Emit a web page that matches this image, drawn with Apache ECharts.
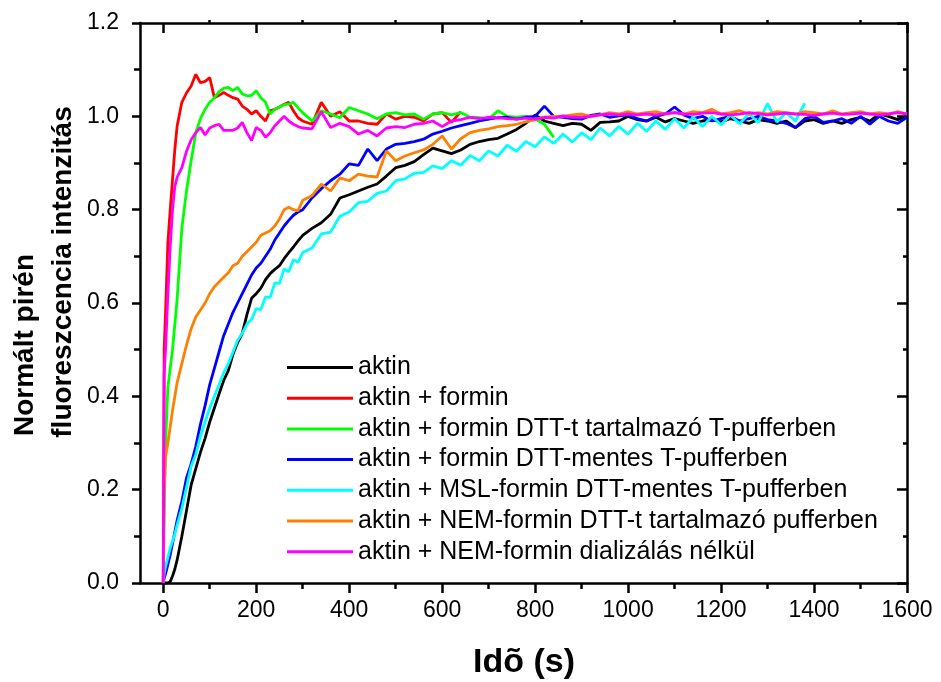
<!DOCTYPE html>
<html>
<head>
<meta charset="utf-8">
<script src="https://cdn.jsdelivr.net/npm/echarts@6/dist/echarts.min.js"></script>
<style>
html,body{margin:0;padding:0;background:#fff;}
#chart{width:941px;height:682px;}
</style>
</head>
<body>
<div id="chart"></div>
<script>
// time grid (s)
const T = [0,2,5,10,15,20,25,30,40,50,60,70,80,90,100,110,120,130,140,150,160,170,180,190,200,210,220,230,240,250,260,270,280,290,300,
  320,340,360,380,400,420,440,460,480,500,
  520,540,560,580,600,620,640,660,680,700,
  720,740,760,780,800,820,840,860,880,900,
  920,940,960,980,1000,1020,1040,1060,1080,1100,
  1120,1140,1160,1180,1200,1220,1240,1260,1280,1300,
  1320,1340,1360,1380,1400,1420,1440,1460,1480,1500,
  1520,1540,1560,1580,1600];

const seriesNames = [
  'aktin',
  'aktin + formin',
  'aktin + formin DTT-t tartalmazó T-pufferben',
  'aktin + formin DTT-mentes T-pufferben',
  'aktin + MSL-formin DTT-mentes T-pufferben',
  'aktin + NEM-formin DTT-t tartalmazó pufferben',
  'aktin + NEM-formin dializálás nélkül'
];

const aktin = [0,0,0,0,0.003,0.015,0.03,0.05,0.10,0.155,0.21,0.245,0.28,0.31,0.345,0.375,0.405,0.434,0.455,0.49,0.515,0.535,0.575,0.61,0.62,0.632,0.65,0.663,0.672,0.68,0.695,0.708,0.72,0.733,0.745,
  0.76,0.772,0.79,0.825,0.832,0.84,0.848,0.855,0.872,0.89,
  0.895,0.903,0.918,0.932,0.926,0.92,0.928,0.94,0.946,0.95,
  0.953,0.962,0.972,0.985,1.003,0.99,0.985,0.98,0.985,0.983,
  0.97,0.987,0.988,0.99,1.0,0.993,0.99,0.998,0.988,0.995,
  0.99,0.985,0.99,0.993,0.988,0.995,0.99,0.985,0.993,0.99,
  0.985,0.99,0.976,0.99,0.993,0.985,0.99,0.985,0.993,0.998,
  0.99,1.005,1.0,0.993,1.0];

const formin = [0,0.5,0.58,0.73,0.80,0.865,0.93,0.98,1.03,1.05,1.065,1.09,1.072,1.075,1.083,1.04,1.045,1.051,1.045,1.04,1.037,1.022,1.015,1.005,1.012,1.0,0.99,1.012,1.015,1.02,1.026,1.03,1.012,0.997,0.99,
  0.983,1.03,1.0,1.01,0.99,0.99,0.985,0.983,1.005,0.994,
  1.0,0.998,0.99,1.005,1.008,0.987,1.01];

const forminDTT = [0,0.15,0.3,0.42,0.46,0.5,0.555,0.61,0.76,0.84,0.905,0.965,0.995,1.015,1.03,1.04,1.053,1.06,1.062,1.055,1.062,1.048,1.044,1.045,1.055,1.04,1.03,1.005,1.015,1.02,1.025,1.026,1.03,1.018,1.008,
  0.99,1.012,1.005,0.997,1.019,1.012,1.005,0.995,1.005,1.008,
  1.003,1.005,0.994,1.005,1.008,1.003,1.008,0.998,0.997,0.994,
  1.012,1.0,0.998,1.0,0.994,0.983,0.955];

const forminMentes = [0,0.01,0.02,0.04,0.06,0.085,0.11,0.135,0.175,0.225,0.255,0.293,0.34,0.38,0.425,0.46,0.495,0.53,0.555,0.58,0.60,0.62,0.64,0.66,0.675,0.685,0.70,0.715,0.735,0.75,0.765,0.777,0.788,0.795,0.80,
  0.825,0.845,0.862,0.876,0.898,0.895,0.93,0.905,0.93,0.94,
  0.942,0.946,0.951,0.962,0.968,0.975,0.98,0.985,0.99,0.994,
  0.997,0.998,0.994,0.998,1.0,1.022,1.0,0.998,0.995,0.994,
  1.002,1.005,0.998,1.001,1.003,0.995,0.99,1.0,1.005,1.02,
  1.003,0.995,1.0,0.99,0.995,1.0,0.99,0.995,1.0,0.993,
  0.99,0.985,0.976,0.995,1.0,0.987,0.99,0.995,0.985,1.0,
  0.983,1.0,0.99,0.985,0.998];

const mslFormin = [0,0.02,0.035,0.055,0.075,0.09,0.105,0.125,0.16,0.205,0.25,0.275,0.315,0.345,0.375,0.40,0.425,0.45,0.47,0.495,0.52,0.535,0.555,0.565,0.588,0.586,0.613,0.612,0.643,0.642,0.673,0.667,0.693,0.687,0.708,
  0.718,0.748,0.752,0.786,0.795,0.815,0.818,0.835,0.84,0.862,
  0.866,0.878,0.88,0.894,0.888,0.905,0.895,0.916,0.905,0.926,
  0.915,0.938,0.925,0.946,0.935,0.956,0.942,0.962,0.945,0.965,
  0.95,0.975,0.958,0.978,0.962,0.985,0.968,0.99,0.972,0.995,
  0.975,0.998,0.978,1.0,0.982,1.003,0.984,1.006,0.987,1.027,
  0.988,1.008,0.99,1.028];

const nemFormin = [0,0.2,0.27,0.30,0.335,0.37,0.40,0.43,0.47,0.51,0.545,0.57,0.585,0.60,0.62,0.635,0.645,0.655,0.665,0.68,0.685,0.70,0.71,0.72,0.73,0.745,0.75,0.755,0.765,0.78,0.80,0.805,0.80,0.798,0.82,
  0.83,0.855,0.84,0.868,0.862,0.876,0.872,0.87,0.926,0.905,
  0.915,0.922,0.928,0.94,0.958,0.93,0.952,0.965,0.97,0.973,
  0.978,0.98,0.983,0.988,0.993,0.998,1.0,1.0,1.003,1.005,
  1.0,1.003,1.008,1.005,1.01,1.005,1.008,1.01,1.005,1.008,
  1.005,1.01,1.008,1.015,1.005,1.008,1.012,1.005,1.008,1.005,
  1.01,1.008,1.005,1.01,1.008,1.005,1.012,1.005,1.008,1.01,
  1.005,1.008,1.005,1.01,1.005];

const nemDializ = [0,0.45,0.5,0.62,0.72,0.80,0.85,0.87,0.89,0.925,0.95,0.965,0.976,0.96,0.975,0.98,0.983,0.97,0.97,0.97,0.975,0.987,0.965,0.948,0.976,0.97,0.955,0.965,0.98,0.99,1.0,0.99,0.983,0.978,0.975,
  0.973,1.01,0.976,0.985,0.978,0.962,0.97,0.958,0.975,0.978,
  0.976,0.983,0.985,0.99,0.978,0.99,0.993,0.998,0.995,0.998,
  0.997,0.995,0.994,0.996,0.994,0.998,0.996,1.001,0.998,0.998,
  1.0,1.003,1.005,1.003,1.005,1.003,1.005,1.003,1.006,1.008,
  1.005,1.004,1.007,1.008,1.005,1.003,1.005,1.008,1.006,1.003,
  1.005,1.007,1.005,1.004,1.002,1.005,1.007,1.004,1.005,1.007,
  1.005,1.003,1.005,1.008,1.005];

const seriesValues = [aktin, formin, forminDTT, forminMentes, mslFormin, nemFormin, nemDializ];
const seriesColors = ['#000000','#ff0000','#00ff00','#0000ff','#00ffff','#ff8000','#ff00ff'];

const xTickLabels = [0,200,400,600,800,1000,1200,1400,1600];
const xMinorTicks = [100,300,500,700,900,1100,1300,1500];
const yTickLabels = [0.0,0.2,0.4,0.6,0.8,1.0,1.2];

const xTitle = 'Idõ (s)';
const yTitleLines = ['Normált pirén', 'fluoreszcencia intenzitás'];

const FONT = '"Liberation Sans", Arial, Helvetica, sans-serif';
const AX = {color:'#000', width:2.5};

const chart = echarts.init(document.getElementById('chart'), null, {renderer:'canvas'});

const series = seriesValues.map((vals, i) => ({
  name: seriesNames[i],
  type: 'line',
  xAxisIndex: 0,
  yAxisIndex: 0,
  showSymbol: false,
  symbol: 'none',
  data: vals.map((v, k) => [T[k], v]),
  lineStyle: {color: seriesColors[i], width: 2.8},
  itemStyle: {color: seriesColors[i]},
  animation: false,
  z: 2 + i
}));

const option = {
  animation: false,
  backgroundColor: '#fff',
  grid: {left:140, right:34, top:23, bottom:99, containLabel:false},
  legend: {
    orient: 'vertical',
    left: 282,
    top: 350,
    itemWidth: 66,
    itemHeight: 3,
    itemGap: 5.7,
    icon: 'rect',
    data: seriesNames,
    textStyle: {fontFamily: FONT, fontSize: 25, color: '#000', lineHeight: 25}
  },
  graphic: [
    {type:'text', x:524, y:663, z:10,
      style:{text:xTitle, font:'bold 34px ' + FONT, fill:'#000', textAlign:'center', textVerticalAlign:'middle'}},
    {type:'text', x:25, y:345, rotation:Math.PI/2, z:10,
      style:{text:yTitleLines[0], font:'bold 28px ' + FONT, fill:'#000', textAlign:'center', textVerticalAlign:'middle'}},
    {type:'text', x:63, y:272, rotation:Math.PI/2, z:10,
      style:{text:yTitleLines[1], font:'bold 28px ' + FONT, fill:'#000', textAlign:'center', textVerticalAlign:'middle'}}
  ],
  xAxis: [
    {
      type:'value', position:'bottom', min:-50, max:1600,
      axisLine:{show:true, onZero:false, lineStyle:AX},
      axisTick:{show:true, customValues:xTickLabels, length:10, lineStyle:AX},
      axisLabel:{show:true, customValues:xTickLabels, fontFamily:FONT, fontSize:23, color:'#000', margin:16,
        formatter: v => String(v)},
      splitLine:{show:false}
    },
    {
      type:'value', position:'bottom', min:-50, max:1600,
      axisLine:{show:false, onZero:false},
      axisTick:{show:true, customValues:xMinorTicks, length:6, lineStyle:AX},
      axisLabel:{show:false},
      splitLine:{show:false}
    },
    {
      type:'value', position:'top', min:-50, max:1600,
      axisLine:{show:true, onZero:false, lineStyle:AX},
      axisTick:{show:true, inside:true, customValues:xTickLabels, length:10, lineStyle:AX},
      axisLabel:{show:false},
      splitLine:{show:false}
    },
    {
      type:'value', position:'top', min:-50, max:1600,
      axisLine:{show:false, onZero:false},
      axisTick:{show:true, customValues:xMinorTicks, length:3, lineStyle:AX},
      axisLabel:{show:false},
      splitLine:{show:false}
    }
  ],
  yAxis: [
    {
      type:'value', position:'left', min:0, max:1.2, interval:0.2,
      axisLine:{show:true, onZero:false, lineStyle:AX},
      axisTick:{show:true, length:8, lineStyle:AX},
      minorTick:{show:true, splitNumber:2, length:6, lineStyle:AX},
      axisLabel:{show:true, customValues:yTickLabels, fontFamily:FONT, fontSize:23, color:'#000', margin:21,
        formatter: v => Number(v).toFixed(1)},
      splitLine:{show:false}
    },
    {
      type:'value', position:'right', min:0, max:1.2, interval:0.2,
      axisLine:{show:true, onZero:false, lineStyle:AX},
      axisTick:{show:true, inside:true, length:10, lineStyle:AX},
      minorTick:{show:true, splitNumber:2, length:4, lineStyle:AX},
      axisLabel:{show:false},
      splitLine:{show:false}
    }
  ],
  series: series
};

chart.setOption(option);
</script>
</body>
</html>
